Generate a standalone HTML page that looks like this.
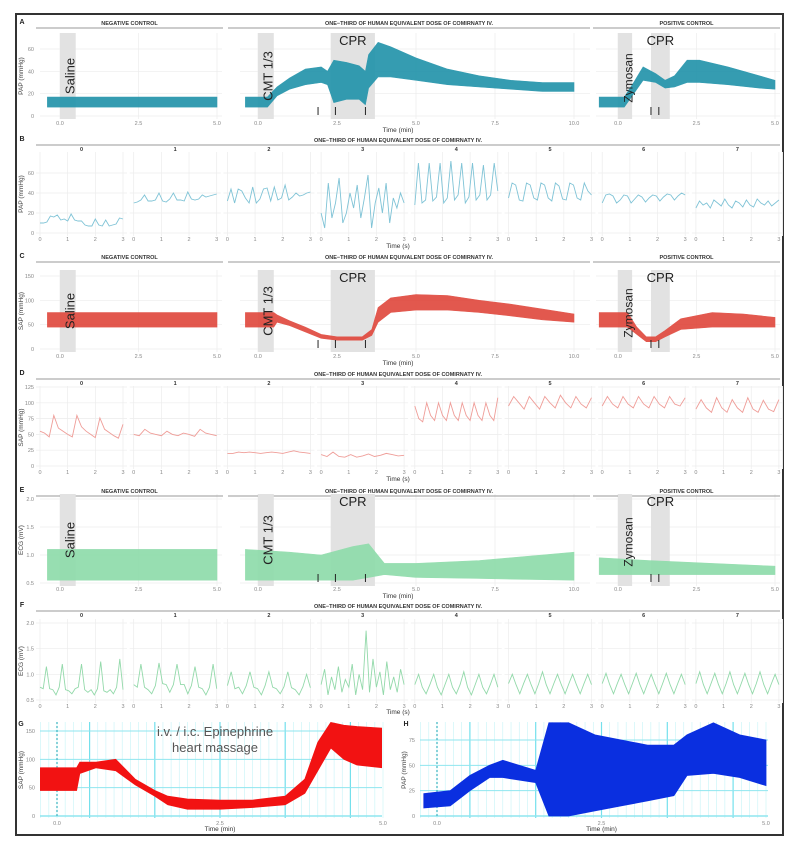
<!DOCTYPE html>
<html><head><meta charset="utf-8"><style>
html,body{margin:0;padding:0;background:#fff;}
svg{display:block;font-family:"Liberation Sans",sans-serif;}
</style></head><body>
<svg id="fig" width="794" height="846" viewBox="0 0 794 846" xmlns="http://www.w3.org/2000/svg">
<rect x="0" y="0" width="794" height="846" fill="#fff"/>
</svg>
<script>
// ---------- DATA ----------
// A: PAP (mmHg) envelopes, time in min
const aNegT=[-0.4,5.0], aNegLo=[8,8], aNegHi=[17,17];
const aMidT=[-0.4,0.3,0.6,1.0,1.5,2.0,2.2,2.4,2.8,3.2,3.4,3.5,3.8,4.2,5,6,7,8,9,10];
const aMidLo=[8,8,18,24,28,30,28,12,15,15,10,25,35,35,32,28,26,24,22,22];
const aMidHi=[17,17,26,34,42,44,40,50,48,45,40,55,66,62,52,42,36,32,30,30];
const aPosT=[-0.6,0.2,0.5,0.8,1.2,1.5,1.8,2.2,2.6,3.5,4.5,5];
const aPosLo=[8,8,20,32,30,25,26,30,30,28,25,24];
const aPosHi=[17,17,30,44,38,32,36,50,50,44,36,32];
// C: SAP envelopes
const cNegT=[-0.4,5.0], cNegLo=[45,45], cNegHi=[75,75];
const cMidT=[-0.4,0.5,0.6,1.0,1.5,2.0,2.5,3.3,3.6,3.8,4.2,5,6,7,8,9,10];
const cMidLo=[45,45,55,48,35,22,18,18,28,55,75,80,80,75,68,60,55];
const cMidHi=[75,75,70,58,45,30,25,25,40,85,105,112,110,100,92,82,72];
const cPosT=[-0.6,0.3,0.6,0.9,1.2,1.5,2,3,4,5];
const cPosLo=[45,45,30,15,15,25,40,45,45,45];
const cPosHi=[75,75,45,25,25,38,62,75,72,65];
// E: ECG envelopes
const eNegT=[-0.4,5.0], eNegLo=[0.55,0.55], eNegHi=[1.1,1.1];
const eMidT=[-0.4,1,2,3,3.5,4,5,7,10];
const eMidLo=[0.55,0.55,0.55,0.55,0.6,0.65,0.6,0.58,0.55];
const eMidHi=[1.1,1.05,1.0,1.15,1.2,0.85,0.85,0.9,1.05];
const ePosT=[-0.6,1,3,5];
const ePosLo=[0.65,0.65,0.65,0.65];
const ePosHi=[0.95,0.9,0.85,0.8];
// B: PAP seconds traces (0..3 s)
const bSeries=[
 [10,10,11,17,16,18,13,14,12,19,13,12,12,8,7,7,14,8,7,13,7,8,9,15,14],
 [30,31,33,38,32,32,33,40,32,31,34,40,33,33,32,41,34,33,34,38,36,37,38,39],
 [32,44,30,44,42,35,30,46,30,34,44,45,32,46,33,35,48,33,36,40,37,38,40,41],
 [20,5,50,15,30,55,10,20,40,25,48,15,35,58,5,30,45,20,50,10,35,25,40,30],
 [28,70,30,33,70,32,36,70,30,35,72,33,38,70,30,36,70,33,38,68,33,38,70,42],
 [35,50,48,33,32,50,48,35,33,50,48,35,32,50,47,34,33,50,48,35,33,50,42,38],
 [30,38,39,37,30,33,38,37,30,34,38,36,31,35,38,37,32,36,39,38,33,37,40,38],
 [25,32,28,30,25,33,30,27,34,28,25,32,30,26,33,28,26,34,30,28,32,27,30,33]];
// D: SAP seconds traces
const dSeries=[
 [55,52,46,80,60,55,50,46,80,62,55,50,45,76,58,53,48,44,66],
 [50,48,58,52,50,48,55,50,48,52,50,47,58,52,50,48],
 [20,20,22,21,22,21,20,21,22,21,20,22,24,22,21,20],
 [18,15,22,15,14,18,14,16,19,15,17,20,18,16,17],
 [95,75,70,100,80,72,100,80,72,100,80,72,100,80,72,100,80,72,100,80,72,108],
 [95,110,100,90,110,100,90,110,100,92,112,100,92,110,98,92,108],
 [95,110,98,92,110,98,92,110,98,92,110,98,92,110,98,95,108],
 [90,105,92,85,108,92,85,105,92,85,108,90,85,104,90,86,105]];
// F: ECG seconds traces
const fSeries=[
 [0.75,0.72,1.15,0.72,0.7,0.6,0.75,1.2,0.7,0.68,0.62,0.72,0.75,1.2,0.7,0.65,0.7,0.6,0.72,1.25,0.68,0.65,0.7,0.62,0.75,1.3,0.7],
 [0.8,0.75,1.2,0.75,0.7,0.62,0.78,1.22,0.82,0.8,0.65,0.8,1.2,0.8,0.8,0.62,0.78,1.15,0.75,0.72,0.6,0.75,1.2,0.72],
 [0.78,1.05,0.72,0.75,0.62,0.78,1.05,0.75,0.72,0.6,0.78,1.05,0.75,0.72,0.62,0.76,1.05,0.74,0.7,0.6,0.76,1.0,0.74],
 [0.8,1.1,0.6,0.95,0.7,1.15,0.65,0.9,0.75,1.2,0.6,1.0,0.7,1.85,0.65,1.3,0.75,1.05,0.6,1.25,0.7,0.95,0.65,1.1,0.8],
 [0.8,1.0,0.75,0.62,0.8,1.0,0.75,0.6,0.8,1.0,0.75,0.62,0.8,1.05,0.75,0.6,0.8,1.0,0.75,0.62,0.8,1.0,0.75],
 [0.82,1.0,0.8,0.62,0.82,1.0,0.8,0.62,0.82,1.05,0.8,0.62,0.82,1.0,0.8,0.62,0.82,1.0,0.8,0.62,0.82,1.0,0.8],
 [0.82,1.02,0.8,0.62,0.82,1.0,0.8,0.62,0.82,1.02,0.8,0.62,0.82,1.0,0.8,0.62,0.82,1.02,0.8,0.62,0.82,1.0,0.8],
 [0.82,1.05,0.8,0.62,0.82,1.02,0.8,0.62,0.82,1.05,0.8,0.62,0.82,1.02,0.8,0.62,0.82,1.05,0.8,0.62,0.82,1.0,0.8]];
// G / H envelopes
const gT=[-0.3,0.3,0.35,0.6,0.9,1.2,1.5,1.7,2.0,2.5,3.0,3.5,3.8,4.0,4.2,4.4,4.6,5.0];
const gLo=[45,45,75,85,80,55,35,20,12,12,15,20,40,80,120,100,90,85];
const gHi=[85,85,95,95,100,65,45,35,30,28,28,35,65,130,165,160,158,155];
const hT=[-0.2,0.2,0.5,0.8,1.0,1.5,1.7,2.0,2.4,2.8,3.2,3.6,3.8,4.2,4.6,5.0];
const hLo=[8,10,25,38,38,33,0,0,5,10,15,20,40,42,38,30];
const hHi=[22,25,40,50,55,45,92,92,80,75,70,70,80,92,80,75];
const minTicks5=[0,2.5,5], minTicks10=[0,2.5,5,7.5,10], secTicks=[0,1,2,3];
const aTicks=[0,20,40,60], cTicks=[0,50,100,150], eTicks=[0.5,1.0,1.5,2.0];
const dTicks=[0,25,50,75,100,125], gTicks=[0,50,100,150], hTicks=[0,25,50,75];

// ---------- HELPERS ----------
const NS="http://www.w3.org/2000/svg";
const svg=document.getElementById('fig');
function mk(tag,parent,a){const e=document.createElementNS(NS,tag);for(const k in a)e.setAttribute(k,a[k]);parent.appendChild(e);return e;}
function lin(d0,d1,r0,r1){return v=>r0+(v-d0)*(r1-r0)/(d1-d0);}
function txt(parent,x,y,s,size,opts){const t=mk('text',parent,Object.assign({x:x,y:y,'font-size':size,fill:'#666','text-anchor':'middle'},opts||{}));t.textContent=s;return t;}
function fmt(v,dec){return dec?v.toFixed(dec):String(v);}

function grid(g,x0,x1,y0,y1,xs,xt,ys,yt){
  mk('rect',g,{x:x0,y:y0,width:x1-x0,height:y1-y0,fill:'#fff'});
  xt.forEach(v=>{mk('line',g,{x1:xs(v),x2:xs(v),y1:y0,y2:y1,stroke:'#ececec','stroke-width':0.7});});
  yt.forEach(v=>{mk('line',g,{x1:x0,x2:x1,y1:ys(v),y2:ys(v),stroke:'#ececec','stroke-width':0.7});});
}
function envPath(ts,lo,hi,xs,ys){
  let d='M'+ts.map((t,i)=>xs(t).toFixed(1)+','+ys(hi[i]).toFixed(1)).join('L');
  for(let i=ts.length-1;i>=0;i--)d+='L'+xs(ts[i]).toFixed(1)+','+ys(lo[i]).toFixed(1);
  return d+'Z';
}
function band(g,xs,t0,t1,y0,y1){mk('rect',g,{x:xs(t0),y:y0,width:xs(t1)-xs(t0),height:y1-y0,fill:'#e2e2e2'});}

// ---------- BORDER ----------
const border=mk('rect',svg,{x:16,y:14,width:767,height:821,fill:'none',stroke:'#333','stroke-width':2});



// ---------- MINUTE ROWS (A, C, E) ----------
const subs=[{n:'neg',title:'NEGATIVE CONTROL',x0:40,x1:222,t0:0,t1:5,r0:60,r1:217,ticks:minTicks5,rl:36,rr:223},
            {n:'mid',title:'ONE\u2212THIRD OF HUMAN EQUIVALENT DOSE OF COMIRNATY IV.',x0:240,x1:590,t0:0,t1:10,r0:258,r1:574,ticks:minTicks10,rl:228,rr:590},
            {n:'pos',title:'POSITIVE CONTROL',x0:596,x1:780,t0:0,t1:5,r0:618,r1:775,ticks:minTicks5,rl:593,rr:780}];
const minRows=[
 {id:'A',name:'panel-a-pap',ylab:'PAP (mmHg)',top:33,bot:119,lblY:24,v0:0,v1:60,p0:116,p1:49,yt:aTicks,dec:0,tickY:125,timeY:132,color:'#2494ab',
  data:[[aNegT,aNegLo,aNegHi],[aMidT,aMidLo,aMidHi],[aPosT,aPosLo,aPosHi]]},
 {id:'C',name:'panel-c-sap',ylab:'SAP (mmHg)',top:270,bot:352,lblY:258,v0:0,v1:150,p0:349,p1:276,yt:cTicks,dec:0,tickY:358,timeY:365,color:'#e04a3f',
  data:[[cNegT,cNegLo,cNegHi],[cMidT,cMidLo,cMidHi],[cPosT,cPosLo,cPosHi]]},
 {id:'E',name:'panel-e-ecg',ylab:'ECG (mV)',top:494,bot:586,lblY:492,v0:0.5,v1:2.0,p0:583,p1:499,yt:eTicks,dec:1,tickY:591,timeY:598,color:'#8fdcab',
  data:[[eNegT,eNegLo,eNegHi],[eMidT,eMidLo,eMidHi],[ePosT,ePosLo,ePosHi]]}];
minRows.forEach(r=>{
  const g=mk('g',svg,{});
  
  
  const ys=lin(r.v0,r.v1,r.p0,r.p1);
  txt(g,22,r.lblY,r.id,7,{'font-weight':'bold',fill:'#222'});
  const yl=txt(g,23,(r.top+r.bot)/2,r.ylab,6.5,{fill:'#444',transform:'rotate(-90 23 '+((r.top+r.bot)/2)+')'});
  
  
  r.yt.forEach(v=>{txt(g,34,ys(v)+2,fmt(v,r.dec),5.5,{'text-anchor':'end',fill:'#888'});});
  subs.forEach((s,si)=>{
    const sg=mk('g',g,{});
    
    
    const xs=lin(s.t0,s.t1,s.r0,s.r1);
    grid(sg,s.x0,s.x1,r.top,r.bot,xs,s.ticks,ys,r.yt);
    mk('line',sg,{x1:s.rl,x2:s.rr,y1:r.lblY+4,y2:r.lblY+4,stroke:'#999','stroke-width':1});
    const tt=txt(sg,(s.rl+s.rr)/2,r.lblY+1,s.title,5.5,{'font-weight':'bold',fill:'#333'});
    
    
    // bands
    if(si===0) band(sg,xs,0,0.5,r.top,r.bot);
    if(si===1){band(sg,xs,0,0.5,r.top,r.bot);band(sg,xs,2.3,3.7,r.top,r.bot);}
    if(si===2){band(sg,xs,0,0.45,r.top,r.bot);band(sg,xs,1.05,1.65,r.top,r.bot);}
    const d=r.data[si];
    const p=mk('path',sg,{d:envPath(d[0],d[1],d[2],xs,ys),fill:r.color,stroke:r.color,'stroke-width':0.6,opacity:0.92});
    
    
    // band labels
    const mid=(r.top+r.bot)/2;
    if(si===0){const l=txt(sg,xs(0.3)+5,mid,'Saline',13,{fill:'#222',transform:'rotate(-90 '+(xs(0.3)+5)+' '+mid+')'});}
    if(si===1){
      const l=txt(sg,xs(0.3)+5,mid,'CMT 1/3',13,{fill:'#222',transform:'rotate(-90 '+(xs(0.3)+5)+' '+mid+')'});
      const c=txt(sg,xs(3.0),r.top+12,'CPR',13,{fill:'#222'});
      [1.9,2.45,3.4].forEach(t=>{mk('line',sg,{x1:xs(t),x2:xs(t),y1:r.bot-12,y2:r.bot-4,stroke:'#222','stroke-width':1});});
    }
    if(si===2){
      const l=txt(sg,xs(0.3)+5,mid+2,'Zymosan',12,{fill:'#222',transform:'rotate(-90 '+(xs(0.3)+5)+' '+(mid+2)+')'});
      const c=txt(sg,xs(1.35),r.top+12,'CPR',13,{fill:'#222'});
      [1.05,1.3].forEach(t=>{mk('line',sg,{x1:xs(t),x2:xs(t),y1:r.bot-12,y2:r.bot-4,stroke:'#222','stroke-width':1});});
    }
    s.ticks.forEach(v=>{txt(sg,xs(v),r.tickY,v.toFixed(1),5.5,{fill:'#888'});});
  });
  const tl=txt(g,398,r.timeY,'Time (min)',6.5,{fill:'#333'});
  
  
});

// ---------- SECOND ROWS (B, D, F) ----------
const secRows=[
 {id:'B',name:'panel-b-pap-seconds',ylab:'PAP (mmHg)',top:152,bot:236,lblY:141,v0:0,v1:60,p0:233,p1:173,yt:aTicks,dec:0,tickY:241,timeY:248,color:'#7fc3d6',series:bSeries},
 {id:'D',name:'panel-d-sap-seconds',ylab:'SAP (mmHg)',top:386,bot:469,lblY:375,v0:0,v1:125,p0:466,p1:387,yt:dTicks,dec:0,tickY:474,timeY:481,color:'#ef9d98',series:dSeries},
 {id:'F',name:'panel-f-ecg-seconds',ylab:'ECG (mV)',top:619,bot:703,lblY:607,v0:0.5,v1:2.0,p0:700,p1:623,yt:eTicks,dec:1,tickY:708,timeY:714,color:'#93d9aa',series:fSeries}];
secRows.forEach(r=>{
  const g=mk('g',svg,{});
  
  
  const ys=lin(r.v0,r.v1,r.p0,r.p1);
  txt(g,22,r.lblY,r.id,7,{'font-weight':'bold',fill:'#222'});
  const yl=txt(g,23,(r.top+r.bot)/2,r.ylab,6.5,{fill:'#444',transform:'rotate(-90 23 '+((r.top+r.bot)/2)+')'});
  
  
  r.yt.forEach(v=>{txt(g,34,ys(v)+2,fmt(v,r.dec),5.5,{'text-anchor':'end',fill:'#888'});});
  mk('line',g,{x1:36,x2:780,y1:r.lblY+4,y2:r.lblY+4,stroke:'#999','stroke-width':1});
  const ht=txt(g,398,r.lblY+1,'ONE\u2212THIRD OF HUMAN EQUIVALENT DOSE OF COMIRNATY IV.',5.5,{'font-weight':'bold',fill:'#333'});
  
  
  r.series.forEach((vals,i)=>{
    const sg=mk('g',g,{});
    
    
    const x0=40+i*93.7;
    const xs=lin(0,3,x0,x0+83);
    grid(sg,x0-4,x0+87,r.top,r.bot,xs,secTicks,ys,r.yt);
    txt(sg,x0+41.5,r.lblY+10,String(i),5.5,{'font-weight':'bold',fill:'#333'});
    const pts=vals.map((v,k)=>xs(k*3/(vals.length-1)).toFixed(1)+','+ys(v).toFixed(1)).join(' ');
    const pl=mk('polyline',sg,{points:pts,fill:'none',stroke:r.color,'stroke-width':0.9});
    
    
    secTicks.forEach(v=>{txt(sg,xs(v),r.tickY,String(v),5.5,{fill:'#888'});});
  });
  const tl=txt(g,398,r.timeY,'Time (s)',6.5,{fill:'#333'});
  
  
});

// ---------- G and H ----------
const ghPanels=[
 {id:'G',name:'panel-g-sap-recording',ylab:'SAP (mmHg)',x0:40,x1:382,r0:57,r1:383,v1:150,p1:731,yt:gTicks,color:'#f21212',T:gT,lo:gLo,hi:gHi},
 {id:'H',name:'panel-h-pap-recording',ylab:'PAP (mmHg)',x0:420,x1:768,r0:437,r1:766,v1:75,p1:740,yt:hTicks,color:'#0a2fe0',T:hT,lo:hLo,hi:hHi}];
ghPanels.forEach(p=>{
  const g=mk('g',svg,{});
  
  
  const xs=lin(0,5,p.r0,p.r1), ys=lin(0,p.v1,816,p.p1);
  const top=722,bot=818;
  for(let t=-0.25;t<=5.01;t+=0.125){mk('line',g,{x1:xs(t),x2:xs(t),y1:top,y2:bot,stroke:'#c6f3f7','stroke-width':0.6});}
  for(let t=0.5;t<=5.01;t+=1){mk('line',g,{x1:xs(t),x2:xs(t),y1:top,y2:bot,stroke:'#74e0ec','stroke-width':1.2});}
  p.yt.forEach(v=>{mk('line',g,{x1:p.x0,x2:p.x1,y1:ys(v),y2:ys(v),stroke:'#8fe6ef','stroke-width':v===0?1.6:1});});
  mk('line',g,{x1:xs(0),x2:xs(0),y1:top,y2:bot,stroke:'#3bb3c0','stroke-width':1.2,'stroke-dasharray':'2,2'});
  const cp=mk('clipPath',g,{id:'clip'+p.id});
  mk('rect',cp,{x:p.x0,y:top,width:p.x1-p.x0,height:bot-top});
  const tr=mk('path',g,{d:envPath(p.T,p.lo,p.hi,xs,ys),fill:p.color,stroke:p.color,'stroke-width':0.8,'clip-path':'url(#clip'+p.id+')'});
  
  
  txt(g,p.x0-4+(p.id==='G'?-15:-10),726,p.id,7,{'font-weight':'bold',fill:'#222'});
  p.yt.forEach(v=>{txt(g,p.x0-5,ys(v)+2,String(v),5.5,{'text-anchor':'end',fill:'#888'});});
  const yx=p.x0-(p.id==='G'?17:14), ym=(top+bot)/2;
  const yl=txt(g,yx,ym,p.ylab,6.5,{fill:'#444',transform:'rotate(-90 '+yx+' '+ym+')'});
  
  
  [0,2.5,5].forEach(v=>{txt(g,xs(v),825,v.toFixed(1),5.5,{fill:'#888'});});
  const tl=txt(g,(p.r0+p.r1)/2,831,'Time (min)',6.5,{fill:'#333'});
  
  
});
const an1=txt(svg,215,736,'i.v. / i.c. Epinephrine',13,{fill:'#555'});


const an2=txt(svg,215,752,'heart massage',13,{fill:'#555'});


</script>
</body></html>
